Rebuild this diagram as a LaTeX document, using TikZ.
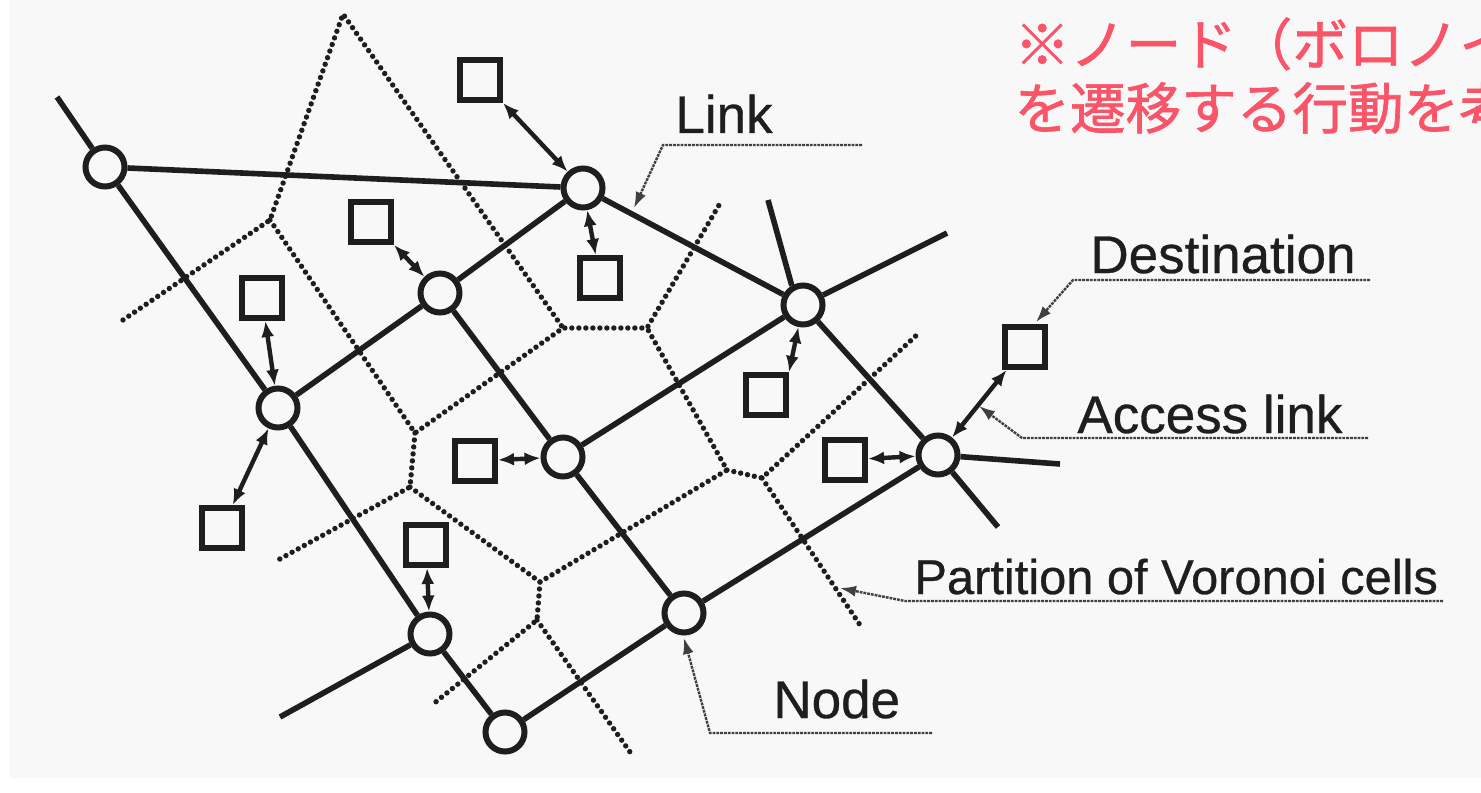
\documentclass[tikz,border=0pt]{standalone}
\usepackage{fontspec}
\setmainfont{Liberation Sans}
\newfontfamily\lblfont[FakeBold=0.6]{Liberation Sans}
\newfontfamily\jpfont[FakeBold=1.2]{Noto Sans CJK JP}
\usetikzlibrary{arrows.meta}
\definecolor{bg}{RGB}{248,248,248}
\definecolor{jpred}{RGB}{250,84,104}
\definecolor{ink}{RGB}{30,30,30}
\tikzset{
  nd/.style={circle,draw=ink,line width=3pt,fill=bg,minimum size=19.5pt,inner sep=0pt},
  dst/.style={rectangle,draw=ink,line width=3pt,fill=bg,minimum size=20pt,inner sep=0pt},
  lnk/.style={draw=ink,line width=2.8pt},
  acc/.style={draw=ink,line width=2.2pt,{Latex[length=8pt,width=6.5pt]}-{Latex[length=8pt,width=6.5pt]}},
  vor/.style={draw=ink,line width=2.7pt,line cap=round,dash pattern=on 0pt off 3.5pt},
  lead/.style={draw=ink!85,line width=1.2pt,dash pattern=on 1.4pt off 0.5pt,-{Latex[length=8pt,width=5.5pt]}},
  lbl/.style={font=\lblfont\fontsize{26.5pt}{30pt}\selectfont,text=ink,inner sep=0pt,anchor=base west},
  jp/.style={font=\jpfont\fontsize{27.8pt}{32pt}\selectfont,text=jpred,inner sep=0pt,anchor=base west}
}
\begin{document}
\begin{tikzpicture}[x=0.5pt,y=-0.5pt]
\useasboundingbox (0,0) rectangle (1481,792);
\fill[white] (0,0) rectangle (1481,792);
\fill[bg] (10,0) rectangle (1481,778);
\clip (0,0) rectangle (1481,792);

% Voronoi vertices and free ends
\coordinate (apex) at (343,14);
\coordinate (v1) at (270,220);
\coordinate (v2) at (415,433);
\coordinate (v3) at (410,487);
\coordinate (v4) at (563,328);
\coordinate (v5) at (647,328);
\coordinate (v6) at (727,470);
\coordinate (v7) at (762,478);
\coordinate (v8) at (540,582);
\coordinate (v9) at (537,620);
\coordinate (f1) at (123,320);
\coordinate (f2) at (278,560);
\coordinate (f3) at (722,200);
\coordinate (f4) at (920,332);
\coordinate (f5) at (860,625);
\coordinate (f6) at (432,705);
\coordinate (f7) at (630,752);

\draw[vor] (f1) -- (v1) -- (apex) -- (v4);
\draw[vor] (v1) -- (v2) -- (v4) -- (v5) -- (f3);
\draw[vor] (v2) -- (v3) -- (f2);
\draw[vor] (v3) -- (v8) -- (v6) -- (v5);
\draw[vor] (v6) -- (v7) -- (f4);
\draw[vor] (v7) -- (f5);
\draw[vor] (v8) -- (v9) -- (f6);
\draw[vor] (v9) -- (f7);

% network nodes
\node[nd] (N1) at (105,167) {};
\node[nd] (N2) at (583,188) {};
\node[nd] (N3) at (440,293) {};
\node[nd] (N4) at (278,408) {};
\node[nd] (N5) at (803,305) {};
\node[nd] (N6) at (563,457) {};
\node[nd] (N7) at (938,455) {};
\node[nd] (N8) at (430,634) {};
\node[nd] (N9) at (684,613) {};
\node[nd] (N10) at (505,732) {};

% destinations
\node[dst] (S1) at (480,80) {};
\node[dst] (S2) at (371,222) {};
\node[dst] (S3) at (600,278) {};
\node[dst] (S4) at (262,298) {};
\node[dst] (S5) at (222,528) {};
\node[dst] (S6) at (426,545) {};
\node[dst] (S7) at (475,461) {};
\node[dst] (S8) at (766,395) {};
\node[dst] (S9) at (845,460) {};
\node[dst] (S10) at (1025,347) {};

% free ends of links
\coordinate (e1) at (57,97);
\coordinate (e2) at (947,233);
\coordinate (e3) at (998,527);
\coordinate (e4) at (280,717);
\coordinate (e5) at (768,200);
\coordinate (e6) at (1060,464);

\draw[lnk] (e1) -- (N1);
\draw[lnk] (N1) -- (N4);
\draw[lnk] (N4) -- (N8);
\draw[lnk] (N8) -- (N10);
\draw[lnk] (N1) -- (N2);
\draw[lnk] (N2) -- (N5);
\draw[lnk] (N4) -- (N3);
\draw[lnk] (N3) -- (N2);
\draw[lnk] (N3) -- (N6);
\draw[lnk] (N6) -- (N9);
\draw[lnk] (N6) -- (N5);
\draw[lnk] (N5) -- (e2);
\draw[lnk] (N5) -- (N7);
\draw[lnk] (N7) -- (e3);
\draw[lnk] (N10) -- (N9);
\draw[lnk] (N9) -- (N7);
\draw[lnk] (N8) -- (e4);
\draw[lnk] (e5) -- (N5.120);
\draw[lnk] (N7) -- (e6);

% access links
\draw[acc] (S1.south east) -- (N2);
\draw[acc] (S2.south east) -- (N3);
\draw[acc] (S3) -- (N2);
\draw[acc] (S4) -- (N4);
\draw[acc] (S5) -- (N4);
\draw[acc] (S6) -- (N8);
\draw[acc] (S7) -- (N6);
\draw[acc] (S8.north east) -- (N5);
\draw[acc] (S9) -- (N7);
\draw[acc] (S10) -- (N7);

% leaders
\coordinate (lkR) at (862,145); \coordinate (lkB) at (663,145); \coordinate (lkT) at (634,208);
\coordinate (dsR) at (1370,280); \coordinate (dsB) at (1073,280); \coordinate (dsT) at (1036,322);
\coordinate (acR) at (1368,438); \coordinate (acB) at (1022,438); \coordinate (acT) at (979,406);
\coordinate (ptR) at (1443,601); \coordinate (ptB) at (905,601); \coordinate (ptT) at (840,588);
\coordinate (ndR) at (932,733); \coordinate (ndB) at (710,733); \coordinate (ndT) at (684,638);
\draw[lead] (lkR) -- (lkB) -- (lkT);
\draw[lead] (dsR) -- (dsB) -- (dsT);
\draw[lead] (acR) -- (acB) -- (acT);
\draw[lead] (ptR) -- (ptB) -- (ptT);
\draw[lead] (ndR) -- (ndB) -- (ndT);

% labels
\node[lbl] (tLink) at (675,133) {Link};
\node[lbl] (tDest) at (1090,273) {Destination};
\node[lbl] (tAcc) at (1077,433) {Access link};
\node[lbl,font=\lblfont\fontsize{24.4pt}{28pt}\selectfont] (tPart) at (914,594) {Partition of Voronoi cells};
\node[lbl] (tNode) at (773,718) {Node};

% Japanese note (cut at the right edge, as in the reference)
\node[jp] (jp1) at (1014,65) {※ノード（ボロノイ};
\node[jp] (jp2) at (1014,129) {を遷移する行動を考};
\end{tikzpicture}
\end{document}
